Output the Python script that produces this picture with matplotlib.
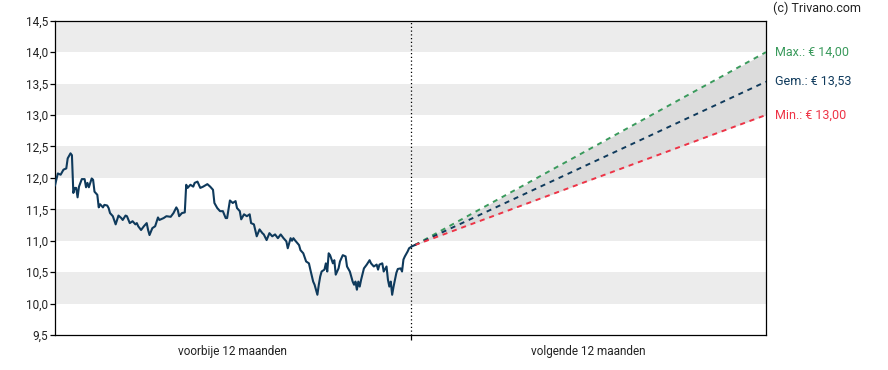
import matplotlib
matplotlib.use("Agg")
import matplotlib.pyplot as plt
import matplotlib.transforms as mtransforms
import numpy as np

plt.rcParams['font.family'] = ['Roboto', 'DejaVu Sans']

# ---- data ----
# trading days (0..252 = past 12 months, 252..504 = next 12 months)
days = [0, 2, 4, 6, 8, 9, 11, 12, 13, 14, 15, 16, 17, 19, 21, 22, 23, 24, 26, 27,
        28, 30, 31, 32, 34, 35, 37, 38, 39, 41, 43, 44, 45, 47, 48, 50, 51, 53, 55, 57,
        58, 59, 61, 63, 65, 66, 67, 69, 71, 73, 74, 77, 79, 82, 84, 86, 87, 88, 90, 92,
        93, 94, 96, 98, 99, 101, 103, 105, 108, 110, 112, 113, 115, 117, 119, 121, 122, 124, 126, 128,
        129, 131, 132, 134, 136, 138, 139, 141, 143, 145, 147, 148, 150, 152, 154, 156, 158, 160, 162, 164,
        165, 167, 168, 169, 170, 173, 174, 176, 178, 180, 181, 183, 184, 186, 187, 188, 189, 191, 192, 193,
        194, 195, 197, 198, 199, 201, 202, 204, 206, 207, 209, 211, 212, 213, 214, 215, 216, 217, 219, 221,
        223, 224, 226, 228, 229, 230, 232, 233, 235, 236, 237, 238, 239, 240, 242, 243, 245, 246, 247, 248,
        250, 251, 253, 255]
prices = [11.88, 12.07, 12.05, 12.13, 12.15, 12.31, 12.39, 12.36, 11.76, 11.84, 11.84, 11.69, 11.86, 11.98, 11.98, 11.85, 11.92, 11.85, 11.99, 11.97,
          11.78, 11.73, 11.53, 11.58, 11.53, 11.57, 11.56, 11.52, 11.44, 11.39, 11.26, 11.33, 11.40, 11.36, 11.33, 11.40, 11.39, 11.28, 11.31, 11.26,
          11.28, 11.23, 11.17, 11.23, 11.28, 11.17, 11.09, 11.20, 11.23, 11.37, 11.33, 11.36, 11.39, 11.38, 11.44, 11.53, 11.49, 11.39, 11.44, 11.45,
          11.89, 11.84, 11.89, 11.86, 11.92, 11.94, 11.84, 11.86, 11.90, 11.86, 11.81, 11.60, 11.52, 11.47, 11.47, 11.36, 11.36, 11.64, 11.60, 11.63,
          11.52, 11.47, 11.34, 11.42, 11.39, 11.42, 11.28, 11.26, 11.07, 11.18, 11.12, 11.10, 11.01, 11.12, 11.07, 11.10, 11.04, 11.10, 11.04, 10.99,
          10.88, 11.04, 11.00, 11.04, 11.01, 10.93, 10.85, 10.80, 10.67, 10.64, 10.54, 10.35, 10.30, 10.14, 10.30, 10.43, 10.51, 10.54, 10.64, 10.51,
          10.80, 10.77, 10.64, 10.69, 10.46, 10.56, 10.67, 10.77, 10.75, 10.59, 10.51, 10.35, 10.30, 10.35, 10.22, 10.35, 10.27, 10.38, 10.56, 10.62,
          10.69, 10.64, 10.59, 10.62, 10.54, 10.62, 10.64, 10.51, 10.59, 10.38, 10.27, 10.35, 10.14, 10.27, 10.49, 10.55, 10.56, 10.51, 10.70, 10.75,
          10.83, 10.88, 10.91, 10.93]

forecast_end_day = 504
forecast_max = 14.00
forecast_avg = 13.53
forecast_min = 13.00

y_ticks = [9.5, 10.0, 10.5, 11.0, 11.5, 12.0, 12.5, 13.0, 13.5, 14.0, 14.5]
y_tick_labels = ["9,5", "10,0", "10,5", "11,0", "11,5", "12,0", "12,5", "13,0", "13,5", "14,0", "14,5"]
period_labels = ["voorbije 12 maanden", "volgende 12 maanden"]
split_day = 252
end_labels = ["Max.: € 14,00", "Gem.: € 13,53", "Min.: € 13,00"]

# ---- styles ----
c_line = "#0f3a5c"
c_max = "#3a9a5c"
c_min = "#ee3346"
c_avg = "#0f3a5c"
c_band = "#ececec"
c_fill = "#dcdcdc"

fig = plt.figure(figsize=(8.88, 3.70), dpi=100)
ax = fig.add_axes([55/888, 35/370, (766-55)/888, (335-20.7)/370])

# horizontal alternating bands
for lo, hi in zip(y_ticks[1::2], y_ticks[2::2]):
    ax.axhspan(lo, hi, color=c_band, lw=0, zorder=0)

# forecast
x0, y0 = days[-1], prices[-1]
fx = [x0, forecast_end_day]
ax.fill_between(fx, [y0, forecast_min], [y0, forecast_max], color=c_fill, lw=0, zorder=1)
for yend, col in [(forecast_max, c_max), (forecast_avg, c_avg), (forecast_min, c_min)]:
    ax.plot(fx, [y0, yend], color=col, lw=1.4, dashes=(2.6, 2.5), zorder=3)

# price line
ax.plot(days, prices, color=c_line, lw=1.5, zorder=4, solid_joinstyle='round')

# vertical dotted split line
ax.axvline(split_day, color="black", lw=0.9, ls=(0, (1, 2)), zorder=5)

ax.set_xlim(0, forecast_end_day)
ax.set_ylim(y_ticks[0], y_ticks[-1])
ax.set_yticks(y_ticks)
ax.set_yticklabels(y_tick_labels)
ax.set_xticks([split_day])
ax.set_xticklabels([""])
ax.set_xticks([split_day / 2, (split_day + forecast_end_day) / 2], minor=True)
ax.set_xticklabels(period_labels, minor=True)
ax.tick_params(axis='x', which='minor', length=0, pad=7, labelsize=8.5, labelcolor="#222222")
ax.tick_params(axis='x', which='major', length=3.5, width=0.9)
ax.tick_params(axis='y', length=3.5, width=0.9, pad=1.5, labelsize=8.5, labelcolor="#222222")
for s in ax.spines.values():
    s.set_linewidth(0.9)
    s.set_color("black")

# end labels
trans = mtransforms.blended_transform_factory(ax.transAxes, ax.transData)
for txt, yv, col in zip(end_labels, [forecast_max, forecast_avg, forecast_min], [c_max, c_avg, c_min]):
    ax.text(1.0125, yv, txt, transform=trans, color=col, fontsize=9, va='center', ha='left')

fig.text(773/888, 1 - 8/370, "(c) Trivano.com", fontsize=9, color="#222222", va='center', ha='left')

fig.savefig("out.png", dpi=100)
